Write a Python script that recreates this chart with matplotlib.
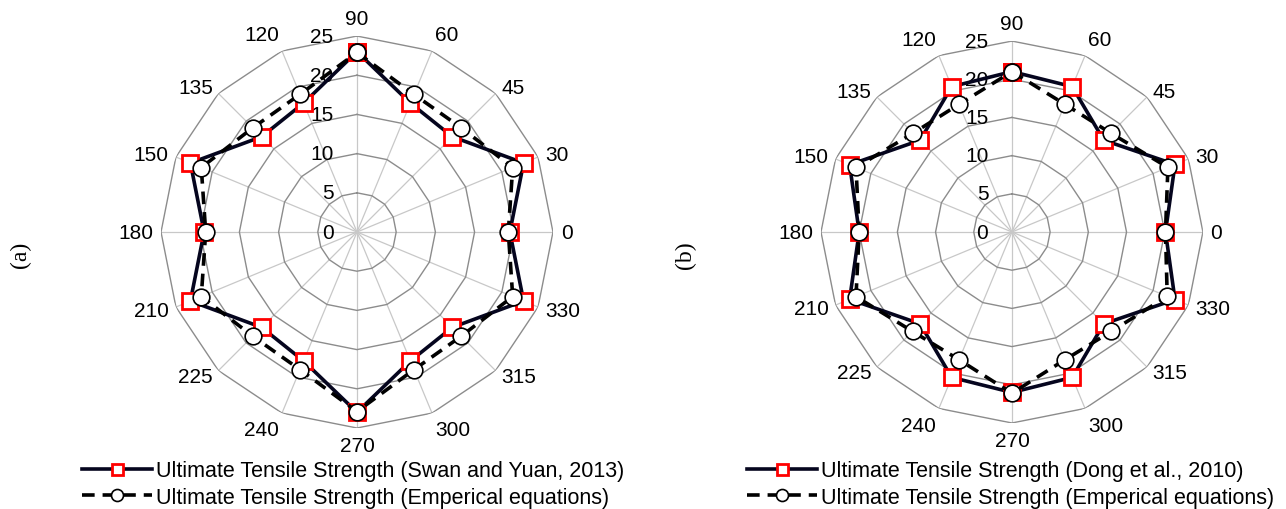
import numpy as np
import matplotlib.pyplot as plt

plt.rcParams["font.family"] = ["Liberation Sans", "DejaVu Sans"]

# category order as drawn clockwise from the top
angles = ["90", "60", "45", "30", "0", "330", "315", "300",
          "270", "240", "225", "210", "180", "150", "135", "120"]

# (a) Swan and Yuan, 2013
uts_swan = [23.0, 17.8, 17.2, 23.0, 19.5, 23.0, 17.2, 17.8,
            23.0, 17.8, 17.2, 23.0, 19.5, 23.0, 17.2, 17.8]
uts_emp_a = [22.9, 19.0, 18.8, 21.5, 19.3, 21.5, 18.8, 19.0,
             22.9, 19.0, 18.8, 21.5, 19.3, 21.5, 18.8, 19.0]

# (b) Dong et al., 2010
uts_dong = [21.0, 20.6, 17.0, 23.1, 20.1, 23.1, 17.0, 20.6,
            21.0, 20.6, 17.0, 23.0, 20.0, 23.0, 17.0, 20.6]
uts_emp_b = [21.0, 18.1, 18.3, 22.1, 20.1, 22.0, 18.4, 18.1,
             21.1, 18.1, 18.4, 22.1, 20.0, 22.1, 18.3, 18.1]

r_ticks = [0, 5, 10, 15, 20, 25]


def radar(ax, exp, emp, exp_label, emp_label):
    n = len(angles)
    theta = np.linspace(0, 2 * np.pi, n, endpoint=False)
    th = np.append(theta, theta[0])

    ax.set_theta_zero_location("N")
    ax.set_theta_direction(-1)
    ax.set_ylim(0, 25)
    ax.grid(False)
    ax.spines["polar"].set_visible(False)
    ax.set_xticks([])
    ax.set_yticks([])

    # polygon grid
    for t in theta:
        ax.plot([t, t], [0, 25], color="#c8c8c8", lw=0.9, zorder=1)
    for r in r_ticks[1:]:
        ax.plot(th, [r] * (n + 1), color="#8c8c8c", lw=1.0, zorder=1)

    # radial labels
    for r in r_ticks:
        ax.annotate(str(r), xy=(0, r), xytext=(-17, 0), textcoords="offset points",
                    ha="right", va="center", fontsize=15, zorder=2)

    # category labels
    for t, lab in zip(theta, angles):
        x, y = np.sin(t), np.cos(t)
        ha = "left" if x > 0.01 else ("right" if x < -0.01 else "center")
        va = "bottom" if y > 0.9 else ("top" if y < -0.9 else "center")
        ax.text(t, 26.0, lab, ha=ha, va=va, fontsize=15)

    e = np.append(exp, exp[0])
    m = np.append(emp, emp[0])
    l1, = ax.plot(th, e, color="#05051e", lw=2.6, marker="s", ms=11,
                  mfc="white", mec="#ff0000", mew=2, zorder=3, label=exp_label)
    l2, = ax.plot(th, m, color="black", lw=2.6, ls=(0, (3.5, 2.2)), marker="o",
                  ms=12, mfc="white", mec="black", mew=1.2, zorder=4, label=emp_label)
    l1.set_clip_on(False)
    l2.set_clip_on(False)
    return l1, l2


fig = plt.figure(figsize=(12.86, 5.10), dpi=100)

ax1 = fig.add_axes([0.1252, 0.1588, 0.3048, 0.7686], projection="polar")
h1 = radar(ax1, uts_swan, uts_emp_a,
           "Ultimate Tensile Strength (Swan and Yuan, 2013)",
           "Ultimate Tensile Strength (Emperical equations)")

ax2 = fig.add_axes([0.6384, 0.1686, 0.2970, 0.7490], projection="polar")
h2 = radar(ax2, uts_dong, uts_emp_b,
           "Ultimate Tensile Strength (Dong et al., 2010)",
           "Ultimate Tensile Strength (Emperical equations)")

leg_kw = dict(loc="upper left", frameon=False, fontsize=15.5, handlelength=3.25,
              handletextpad=0.2, labelspacing=0.25, borderaxespad=0,
              markerscale=0.72)
fig.legend(handles=h1, bbox_to_anchor=(0.0568, 0.112), **leg_kw)
fig.legend(handles=h2, bbox_to_anchor=(0.5740, 0.112), **leg_kw)

fig.text(20 / 1286, 1 - 255 / 510, "(a)", rotation=90, ha="center", va="center",
         fontsize=17, family=["Liberation Serif", "DejaVu Serif"])
fig.text(685 / 1286, 1 - 255 / 510, "(b)", rotation=90, ha="center", va="center",
         fontsize=17, family=["Liberation Serif", "DejaVu Serif"])

fig.savefig("out.png", dpi=100)
